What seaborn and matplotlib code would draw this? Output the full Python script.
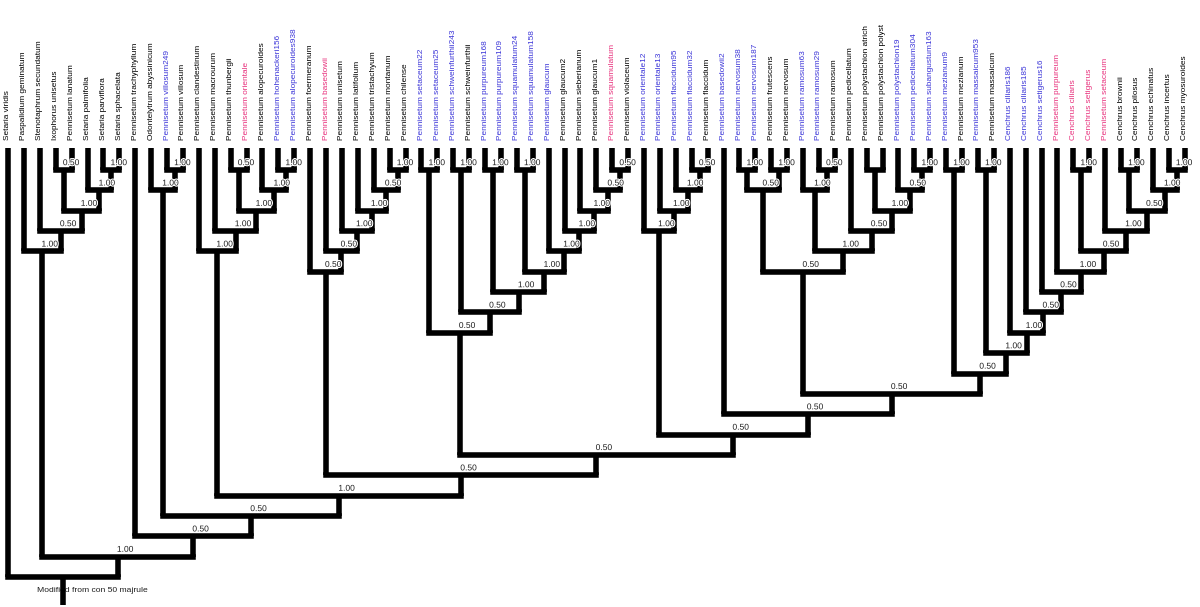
import matplotlib
matplotlib.use("Agg")
import matplotlib.pyplot as plt
import matplotlib.patheffects as pe
import seaborn as sns

# ---------------- data ----------------
leaf_names = [
    "Setaria viridis", "Paspalidium geminatum", "Stenotaphrum secundatum",
    "Ixophorus unisetus", "Pennisetum lanatum", "Setaria palmifolia",
    "Setaria parviflora", "Setaria sphacelata", "Pennisetum trachyphyllum",
    "Odontelytrum abyssinicum", "Pennisetum villosum249", "Pennisetum villosum",
    "Pennisetum clandestinum", "Pennisetum macrourum", "Pennisetum thunbergii",
    "Pennisetum orientale", "Pennisetum alopecuroides", "Pennisetum hohenackeri156",
    "Pennisetum alopecuroides938", "Pennisetum foermeranum", "Pennisetum basedowii",
    "Pennisetum unisetum", "Pennisetum latifolium", "Pennisetum tristachyum",
    "Pennisetum montanum", "Pennisetum chilense", "Pennisetum setaceum22",
    "Pennisetum setaceum25", "Pennisetum schweinfurthii243", "Pennisetum schweinfurthii",
    "Pennisetum purpureum168", "Pennisetum purpureum109", "Pennisetum squamulatum24",
    "Pennisetum squamulatum158", "Pennisetum glaucum", "Pennisetum glaucum2",
    "Pennisetum sieberianum", "Pennisetum glaucum1", "Pennisetum squamulatum",
    "Pennisetum violaceum", "Pennisetum orientale12", "Pennisetum orientale13",
    "Pennisetum flaccidum95", "Pennisetum flaccidum32", "Pennisetum flaccidum",
    "Pennisetum basedowii2", "Pennisetum nervosum38", "Pennisetum nervosum187",
    "Pennisetum frutescens", "Pennisetum nervosum", "Pennisetum ramosum63",
    "Pennisetum ramosum29", "Pennisetum ramosum", "Pennisetum pedicellatum",
    "Pennisetum polystachion atrich", "Pennisetum polystachion polyst",
    "Pennisetum polystachion19", "Pennisetum pedicellatum304", "Pennisetum subangustum163",
    "Pennisetum mezianum9", "Pennisetum mezianum", "Pennisetum massaicum953",
    "Pennisetum massaicum", "Cenchrus ciliaris186", "Cenchrus ciliaris185",
    "Cenchrus setigerus16", "Pennisetum purpureum", "Cenchrus ciliaris",
    "Cenchrus setigerus", "Pennisetum setaceum", "Cenchrus brownii",
    "Cenchrus pilosus", "Cenchrus echinatus", "Cenchrus incertus", "Cenchrus myosuroides",
]

# k = black, b = blue, p = pink
leaf_groups = list(
    "kkkkkkkkkk"   # 0-9
    "bkkkkpkbbk"   # 10-19
    "pkkkkkbbbk"   # 20-29
    "bbbbbkkkpk"   # 30-39
    "bbbbkbbbkk"   # 40-49
    "bbkkkkbbbb"   # 50-59
    "kbkbbbpppp"   # 60-69
    "kkkkk"        # 70-74
)

group_colors = {"k": "#000000", "b": "#3b35d8", "p": "#e8307c"}

# consensus tree (leaf indices) with majority-rule support values
clade_paspalidium = "(1,(2,((3,4)0.50,(5,(6,7)1.00)1.00)1.00)0.50)1.00"
clade_odontelytrum = "(9,(10,11)1.00)1.00"
clade_clandestinum = "(12,(13,((14,15)0.50,(16,(17,18)1.00)1.00)1.00)1.00)1.00"
clade_foermeranum = "(19,(20,(21,(22,(23,(24,25)1.00)0.50)1.00)1.00)0.50)0.50"
clade_glaucum = ("((26,27)1.00,((28,29)1.00,((30,31)1.00,((32,33)1.00,"
                 "(34,(35,(36,(37,(38,39)0.50)0.50)1.00)1.00)1.00)1.00)1.00)0.50)0.50")
clade_orientale = "(40,(41,(42,(43,44)0.50)1.00)1.00)1.00"
clade_nervosum = ("(((46,47)1.00,(48,49)1.00)0.50,((50,(51,52)0.50)1.00,"
                  "(53,((54,55),(56,(57,58)1.00)0.50)1.00)0.50)1.00)0.50")
clade_cenchrus = ("(63,(64,(65,(66,((67,68)1.00,(69,((70,71)1.00,(72,(73,74)1.00)1.00)"
                  "0.50)1.00)0.50)1.00)0.50)0.50)1.00")

newick = (
    "(0,(" + clade_paspalidium + ",(8,(" + clade_odontelytrum + ",(" + clade_clandestinum
    + ",(" + clade_foermeranum + ",(" + clade_glaucum + ",(" + clade_orientale
    + ",(45,(" + clade_nervosum + ",((59,60)1.00,((61,62)1.00," + clade_cenchrus
    + ")1.00)0.50)0.50)0.50)0.50)0.50)0.50)1.00)0.50)0.50)1.00)"
)

footer_text = "Modified from con 50 majrule"


# ---------------- tree parsing ----------------
def parse(s):
    pos = 0

    def node():
        nonlocal pos
        if s[pos] == "(":
            pos += 1
            kids = [node()]
            while s[pos] == ",":
                pos += 1
                kids.append(node())
            assert s[pos] == ")"
            pos += 1
            start = pos
            while pos < len(s) and (s[pos].isdigit() or s[pos] == "."):
                pos += 1
            return {"kids": kids, "label": s[start:pos]}
        start = pos
        while pos < len(s) and s[pos].isdigit():
            pos += 1
        return {"leaf": int(s[start:pos])}

    t = node()
    assert pos == len(s), (pos, len(s))
    return t


LEAF_TOP = -0.08


def layout(n):
    if "leaf" in n:
        n["x"] = float(n["leaf"])
        n["h"] = LEAF_TOP
        n["lvl"] = 0
        return
    for k in n["kids"]:
        layout(k)
    n["lvl"] = max(k["lvl"] for k in n["kids"]) + 1
    n["h"] = float(n["lvl"])
    n["x"] = (n["kids"][0]["x"] + n["kids"][-1]["x"]) / 2.0


tree = parse(newick)
layout(tree)

# ---------------- drawing ----------------
sns.set_theme(style="white")
plt.rcParams["font.family"] = ["Liberation Sans", "DejaVu Sans"]

fig = plt.figure(figsize=(12, 6.07), dpi=100)
ax = fig.add_axes([0, 0, 1, 1])
ax.set_axis_off()

LW = 4.0
halo = [pe.withStroke(linewidth=1.6, foreground="white")]


def draw(n):
    if "leaf" in n:
        return
    kids = n["kids"]
    xs = [k["x"] for k in kids]
    ax.plot([min(xs), max(xs)], [n["h"], n["h"]], color="black", lw=LW,
            solid_capstyle="projecting", zorder=2)
    for k in kids:
        ax.plot([k["x"], k["x"]], [k["h"], n["h"]], color="black", lw=LW,
                solid_capstyle="butt", zorder=2)
        draw(k)
    if n["label"]:
        ax.text(n["x"] - 0.05, n["h"] - 0.14, n["label"], ha="left", va="bottom",
                fontsize=6.1, color="#1e1e1e", zorder=4, path_effects=halo)


draw(tree)
# root stem
ax.plot([tree["x"], tree["x"]], [tree["h"], 22.4], color="black", lw=LW,
        solid_capstyle="butt", zorder=2)

for i, (name, g) in enumerate(zip(leaf_names, leaf_groups)):
    ax.text(i, -0.47, name, rotation=90, ha="center", va="bottom",
            fontsize=5.95, color=group_colors[g], zorder=3)

ax.text(1.82, 21.64, footer_text, ha="left", va="center", fontsize=6.1,
        color="#1e1e1e", zorder=1)

# pixel-calibrated limits: leaf i at 8 + 15.9 i px, level h at 149.65 + 20.35 h px
ax.set_xlim(-8 / 15.9, (1200 - 8) / 15.9)
ax.set_ylim((607 - 149.65) / 20.35, -149.65 / 20.35)

fig.savefig("out.png", dpi=100, facecolor="white")
